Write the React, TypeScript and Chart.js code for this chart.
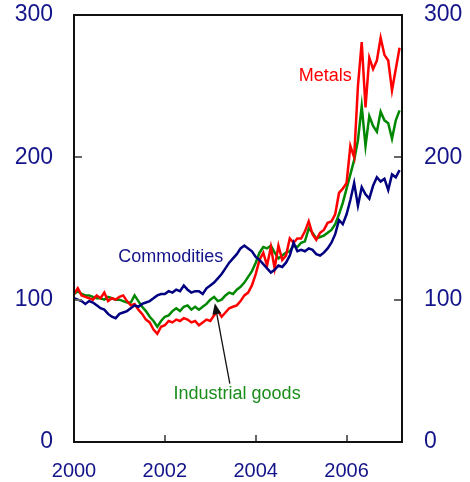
import React, { useEffect, useRef } from 'react';
import { Chart, registerables } from 'chart.js';

Chart.register(...registerables);

// Monthly observations starting January 2000 (index = months since start)
const START_YEAR = 2000;

const commodities = [
  101, 100, 99, 97, 99, 98, 96, 94, 93, 90, 88, 87,
  90, 91, 92, 94, 96, 95, 97, 98, 99, 101, 103, 104,
  104, 106, 105, 107, 106, 110, 107, 105, 106, 106, 104, 108,
  110, 112, 115, 118, 122, 126, 129, 132, 136, 138, 136, 134,
  130, 128, 125, 122, 119, 121, 124, 123, 126, 131, 140, 134,
  135, 134, 136, 135, 132, 131, 133, 136, 140, 146, 156, 153,
  160, 170, 182, 166, 179, 174, 171, 180, 186, 183, 185, 177,
  188, 186, 191,
];

const industrialGoods = [
  104, 106, 104, 103, 103, 102, 101, 101, 100, 102, 101, 100,
  100, 99, 98, 98, 103, 99, 95, 92, 88, 85, 81, 85,
  88, 89, 92, 94, 92, 95, 96, 93, 95, 93, 95, 97,
  100, 102, 99, 100, 103, 105, 104, 107, 109, 112, 116, 120,
  126, 133, 137, 136, 138, 133, 129, 131, 133, 134, 138, 137,
  140, 141, 150, 147, 143, 144, 145, 147, 149, 153, 160, 168,
  178, 188, 198, 212, 236, 208, 229, 222, 218, 232, 226, 224,
  213, 226, 233,
];

const metals = [
  104, 108, 103, 102, 101, 100, 103, 101, 105, 99, 101, 100,
  102, 103, 99, 96, 97, 93, 90, 86, 84, 79, 76, 81,
  82, 85, 84, 86, 85, 87, 86, 84, 85, 82, 84, 86,
  85, 89, 92, 88, 91, 94, 95, 96, 99, 103, 105, 110,
  118, 128, 133, 124, 137, 122, 138, 128, 131, 143, 140, 143,
  143, 148, 155, 146, 142, 147, 149, 154, 155, 160, 175, 178,
  182, 208, 200, 250, 281, 235, 270, 262, 268, 284, 272, 268,
  247, 262, 277,
];

const xTicks = [2000, 2002, 2004, 2006];
const yTicks = [0, 100, 200, 300];
const X_MIN = 2000;
const X_MAX = 2007.22;

// Annotation texts, anchored in data units (year, value)
const labels = [
  { text: 'Metals', x: 2005.53, y: 257, color: '#ff0000' },
  { text: 'Commodities', x: 2002.13, y: 130, color: '#14148a' },
  { text: 'Industrial goods', x: 2003.59, y: 34, color: '#1a8c1a' },
];
const arrowTail = { x: 2003.43, y: 41 };
const arrowTip = { x: 2003.1, y: 97.5 };

const AXIS_COLOR = '#14148a';
const FONT = "'Liberation Sans', Arial, sans-serif";

const toXY = (vals: number[]) =>
  vals.map((v, i) => ({ x: START_YEAR + i / 12, y: v }));

const framePlugin = {
  id: 'frameAndNotes',
  afterDatasetsDraw(chart: any) {
    const { ctx, chartArea: a, scales } = chart;
    const xs = scales.x;
    const ys = scales.y;
    ctx.save();
    // inner tick marks
    ctx.strokeStyle = '#666';
    ctx.lineWidth = 2;
    ctx.beginPath();
    xTicks.slice(1).forEach((v) => {
      const px = Math.round(xs.getPixelForValue(v));
      ctx.moveTo(px, a.bottom);
      ctx.lineTo(px, a.bottom - 7);
    });
    yTicks.slice(1, -1).forEach((v) => {
      const py = Math.round(ys.getPixelForValue(v));
      ctx.moveTo(a.left, py);
      ctx.lineTo(a.left + 8, py);
      ctx.moveTo(a.right, py);
      ctx.lineTo(a.right - 8, py);
    });
    ctx.stroke();
    // frame
    ctx.strokeStyle = '#111';
    ctx.lineWidth = 2;
    ctx.strokeRect(a.left, a.top, a.right - a.left, a.bottom - a.top);

    // labels
    ctx.font = `18px ${FONT}`;
    ctx.textAlign = 'center';
    ctx.textBaseline = 'middle';
    labels.forEach((l) => {
      ctx.fillStyle = l.color;
      ctx.fillText(l.text, xs.getPixelForValue(l.x), ys.getPixelForValue(l.y));
    });

    // arrow
    const tx = xs.getPixelForValue(arrowTail.x);
    const ty = ys.getPixelForValue(arrowTail.y);
    const hx = xs.getPixelForValue(arrowTip.x);
    const hy = ys.getPixelForValue(arrowTip.y);
    const ang = Math.atan2(hy - ty, hx - tx);
    const headLen = 11;
    const headW = 4.5;
    const bx = hx - headLen * Math.cos(ang);
    const by = hy - headLen * Math.sin(ang);
    ctx.strokeStyle = '#111';
    ctx.lineWidth = 1.3;
    ctx.beginPath();
    ctx.moveTo(tx, ty);
    ctx.lineTo(bx, by);
    ctx.stroke();
    ctx.fillStyle = '#111';
    ctx.beginPath();
    ctx.moveTo(hx, hy);
    ctx.lineTo(bx + headW * Math.sin(ang), by - headW * Math.cos(ang));
    ctx.lineTo(bx - headW * Math.sin(ang), by + headW * Math.cos(ang));
    ctx.closePath();
    ctx.fill();
    ctx.restore();
  },
};

export default function App() {
  const ref = useRef<HTMLCanvasElement | null>(null);

  useEffect(() => {
    if (!ref.current) return;
    const tickFont = (size: number) => ({ family: FONT, size });
    const yScale = (position: 'left' | 'right', width: number) => ({
      type: 'linear' as const,
      position,
      min: 0,
      max: 300,
      grid: { display: false, drawTicks: false },
      border: { display: false },
      afterBuildTicks: (s: any) => {
        s.ticks = yTicks.map((v) => ({ value: v }));
      },
      afterFit: (s: any) => {
        s.width = width;
        s.paddingTop = 0;
        s.paddingBottom = 0;
      },
      ticks: {
        padding: position === 'left' ? 21 : 22,
        color: AXIS_COLOR,
        font: tickFont(23),
        callback: (v: any) => String(v),
      },
    });

    const chart = new Chart(ref.current, {
      type: 'line',
      data: {
        datasets: [
          {
            label: 'Commodities',
            data: toXY(commodities),
            borderColor: '#000080',
            yAxisID: 'y',
          },
          {
            label: 'Metals',
            data: toXY(metals),
            borderColor: '#ff0000',
            yAxisID: 'y',
          },
          {
            label: 'Industrial goods',
            data: toXY(industrialGoods),
            borderColor: '#008800',
            yAxisID: 'y',
          },
        ],
      },
      options: {
        responsive: false,
        animation: false,
        layout: { padding: { top: 15, left: 0, right: 0, bottom: 0 } },
        plugins: { legend: { display: false }, tooltip: { enabled: false } },
        elements: {
          point: { radius: 0 },
          line: { borderWidth: 2.5, tension: 0 },
        },
        scales: {
          x: {
            type: 'linear',
            min: X_MIN,
            max: X_MAX,
            grid: { display: false, drawTicks: false },
            border: { display: false },
            afterBuildTicks: (s: any) => {
              s.ticks = xTicks.map((v) => ({ value: v }));
            },
            afterFit: (s: any) => {
              s.height = 40;
              s.paddingLeft = 0;
              s.paddingRight = 0;
            },
            ticks: {
              padding: 17,
              color: AXIS_COLOR,
              font: tickFont(20),
              maxRotation: 0,
              autoSkip: false,
              callback: (v: any) => String(v),
            },
          },
          y: yScale('left', 74),
          y2: yScale('right', 68),
        },
      },
      plugins: [framePlugin],
    });
    return () => chart.destroy();
  }, []);

  return (
    <div style={{ position: 'absolute', left: 0, top: 0, width: 470, height: 482, background: '#fff' }}>
      <canvas ref={ref} width={470} height={482} style={{ display: 'block' }} />
    </div>
  );
}
